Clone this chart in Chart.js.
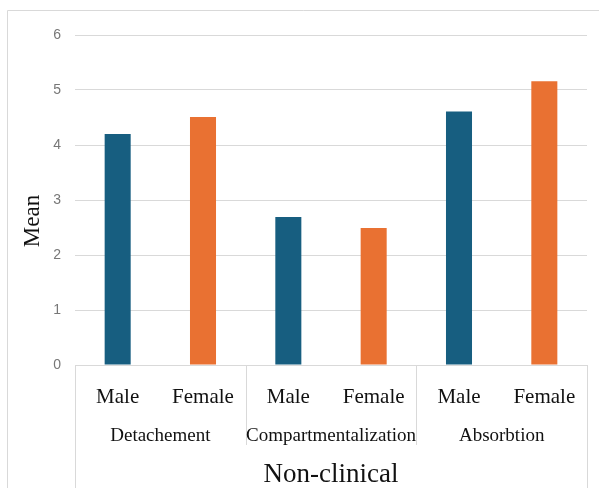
<!DOCTYPE html>
<html>
<head>
<meta charset="utf-8">
<script src="https://cdn.jsdelivr.net/npm/chart.js@4"></script>
<style>
  html, body { margin: 0; padding: 0; background: #ffffff; }
  #wrap { width: 599px; height: 488px; position: relative; }
</style>
</head>
<body>
<div id="wrap"><canvas id="chart" width="599" height="488"></canvas></div>
<script>
// Dissociation subscale means, non-clinical sample
const groups = ['Detachement', 'Compartmentalization', 'Absorbtion'];
const sexes = ['Male', 'Female'];
const maleMeans = [4.2, 2.69, 4.61];
const femaleMeans = [4.51, 2.49, 5.16];
const yTickValues = [0, 1, 2, 3, 4, 5, 6];
const sampleName = 'Non-clinical';
const yTitle = 'Mean';

const sexColors = { Male: '#175E80', Female: '#E97132' };
const lineGrey = '#d9d9d9';
const serif = '"Liberation Serif", "Times New Roman", serif';

// Interleave Male/Female bars per subscale
const labels = [];
const values = [];
const colors = [];
groups.forEach((g, i) => {
  labels.push(sexes[0]); values.push(maleMeans[i]); colors.push(sexColors.Male);
  labels.push(sexes[1]); values.push(femaleMeans[i]); colors.push(sexColors.Female);
});

// Frame lines, group separators, group names and the y title
const decorations = {
  id: 'decorations',
  beforeDraw(chart) {
    const ctx = chart.ctx;
    ctx.save();
    ctx.strokeStyle = lineGrey;
    ctx.lineWidth = 1;
    ctx.beginPath();
    ctx.moveTo(7.5, 488);
    ctx.lineTo(7.5, 10.5);
    ctx.lineTo(599, 10.5);
    ctx.stroke();
    ctx.restore();
  },
  afterDraw(chart) {
    const ctx = chart.ctx;
    const x = chart.scales.x;
    const area = chart.chartArea;
    const half = (x.getPixelForValue(1) - x.getPixelForValue(0)) / 2;
    ctx.save();
    ctx.strokeStyle = lineGrey;
    ctx.lineWidth = 1;
    for (let i = 0; i <= groups.length; i++) {
      const edge = i < groups.length
        ? x.getPixelForValue(i * 2) - half
        : x.getPixelForValue(groups.length * 2 - 1) + half;
      const px = Math.round(edge) + 0.5;
      const bottom = (i === 0 || i === groups.length) ? 488 : 445;
      ctx.beginPath();
      ctx.moveTo(px, area.bottom);
      ctx.lineTo(px, bottom);
      ctx.stroke();
    }
    ctx.fillStyle = '#111111';
    ctx.font = '19px ' + serif;
    ctx.textAlign = 'center';
    ctx.textBaseline = 'middle';
    groups.forEach((g, i) => {
      const cx = (x.getPixelForValue(i * 2) + x.getPixelForValue(i * 2 + 1)) / 2;
      ctx.fillText(g, cx, 436);
    });
    ctx.translate(33, 221);
    ctx.rotate(-Math.PI / 2);
    ctx.font = '23px ' + serif;
    ctx.fillText(yTitle, 0, 0);
    ctx.restore();
  }
};

new Chart(document.getElementById('chart'), {
  type: 'bar',
  data: {
    labels: labels,
    datasets: [{
      data: values,
      backgroundColor: colors,
      borderWidth: 0,
      barPercentage: 0.305,
      categoryPercentage: 1
    }]
  },
  options: {
    responsive: false,
    animation: false,
    devicePixelRatio: 1,
    layout: { padding: { top: 35, right: 12, bottom: 0, left: 0 } },
    plugins: { legend: { display: false }, tooltip: { enabled: false } },
    scales: {
      x: {
        grid: { display: false, drawTicks: false },
        border: { display: false },
        ticks: {
          color: '#111111',
          font: { family: serif, size: 21 },
          padding: 20,
          maxRotation: 0,
          autoSkip: false
        },
        title: {
          display: true,
          text: sampleName,
          color: '#111111',
          font: { family: serif, size: 27, lineHeight: 1.0 },
          padding: { top: 0, bottom: 0 }
        },
        afterFit(scale) { scale.height = 123; }
      },
      y: {
        min: 0,
        max: 6,
        afterBuildTicks(scale) { scale.ticks = yTickValues.map(v => ({ value: v })); },
        grid: { color: lineGrey, lineWidth: 1, drawTicks: false },
        border: { display: false },
        ticks: {
          color: '#777777',
          font: { family: '"Liberation Sans", Arial, sans-serif', size: 14 },
          padding: 14
        },
        afterFit(scale) { scale.width = 75; }
      }
    }
  },
  plugins: [decorations]
});
</script>
</body>
</html>
